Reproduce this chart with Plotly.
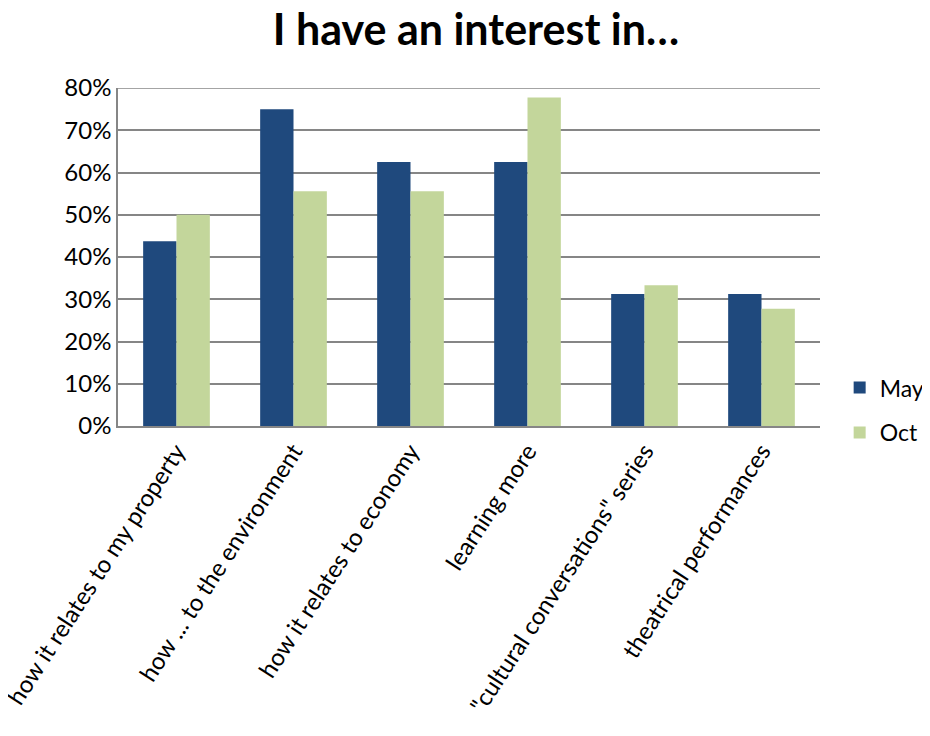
import plotly.graph_objects as go

categories = ["how it relates to my property", "how ... to the environment",
              "how it relates to economy", "learning more",
              "\"cultural conversations\" series", "theatrical performances"]
may_values = [0.4375, 0.75, 0.625, 0.625, 0.3125, 0.3125]
oct_values = [0.50, 0.5556, 0.5556, 0.7778, 0.3333, 0.2778]
tick_vals = [0, 0.1, 0.2, 0.3, 0.4, 0.5, 0.6, 0.7, 0.8]

font_family = "Lato, 'Open Sans', sans-serif"

fig = go.Figure()
fig.add_trace(go.Bar(name="May", x=categories, y=may_values, legendgroup="a",
                     marker=dict(color="#1F497D", line=dict(width=0))))
fig.add_trace(go.Bar(name="Oct", x=categories, y=oct_values, legendgroup="b",
                     marker=dict(color="#C3D69B", line=dict(width=0))))

# page body has an 8px margin, so the figure is sized 16px smaller
fig.update_layout(
    width=914, height=720,
    margin=dict(l=110, r=102, t=80, b=302, autoexpand=False),
    paper_bgcolor="white", plot_bgcolor="white",
    barmode="group", bargap=0.43, bargroupgap=0,
    font=dict(family=font_family, color="black", size=24),
    title=dict(text="<b>I have an interest in…</b>", x=0.512, xanchor="center",
               y=0.97, yanchor="middle", font=dict(size=43, family=font_family)),
    legend=dict(x=1.028, xanchor="left", y=0.047, yanchor="middle",
                font=dict(size=23), tracegroupgap=12, itemsizing="constant",
                itemwidth=30, bgcolor="rgba(0,0,0,0)"),
    xaxis=dict(tickangle=-57, showline=True, linecolor="#868686", linewidth=1.5,
               ticks="", automargin=False, tickfont=dict(size=24)),
    yaxis=dict(range=[0, 0.8], tickvals=tick_vals, tickformat=".0%",
               showgrid=True, gridcolor="#868686", gridwidth=1.5,
               showline=True, linecolor="#868686", linewidth=1.5,
               ticks="", automargin=False, tickfont=dict(size=24), zeroline=False),
)
fig.add_shape(type="line", xref="paper", yref="y", x0=0, x1=1, y0=0.8, y1=0.8,
              line=dict(color="#868686", width=1.5))

fig.write_html("out.html")
